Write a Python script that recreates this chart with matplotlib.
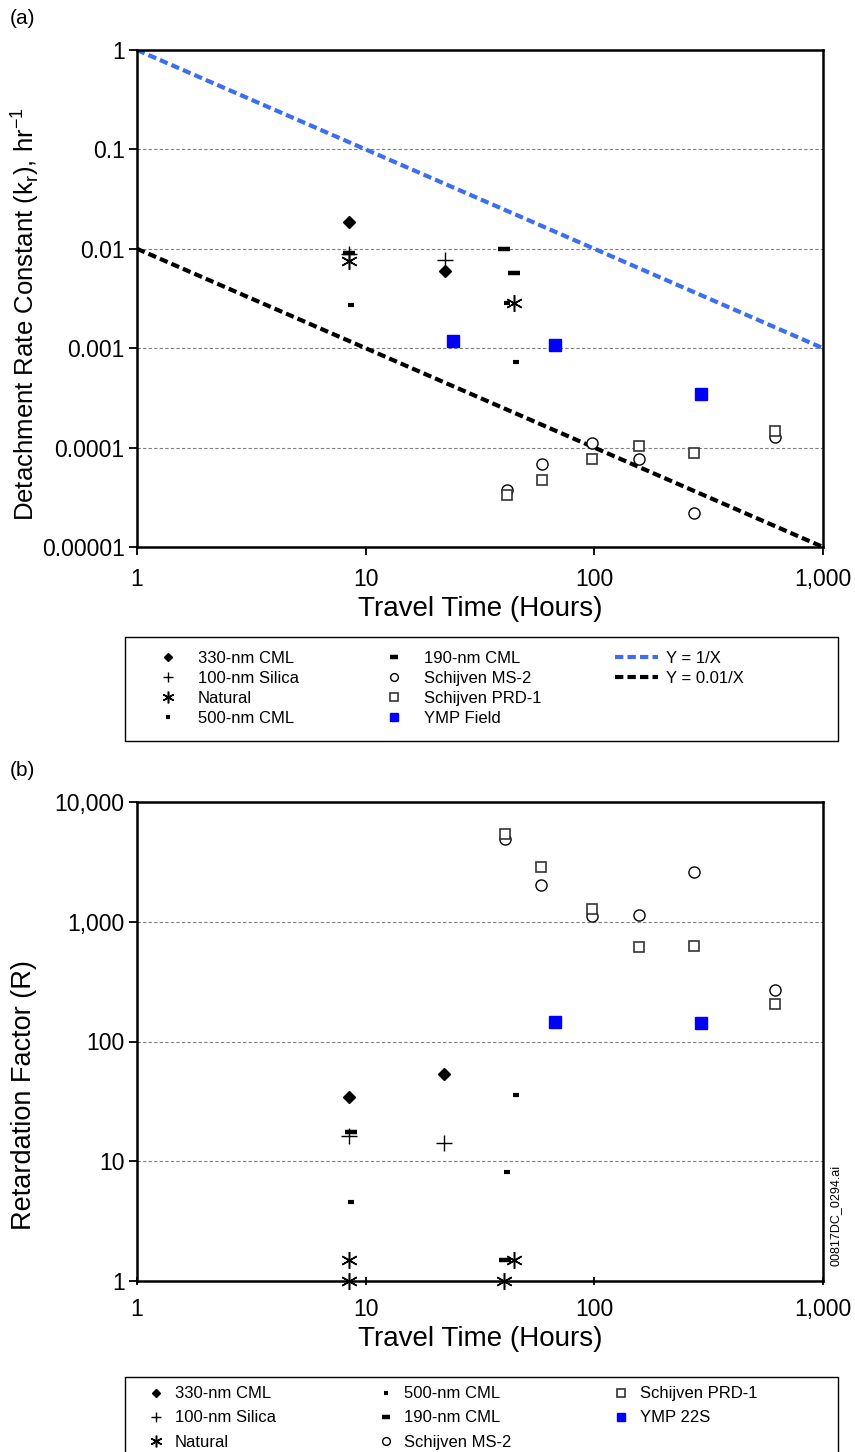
import numpy as np
import matplotlib
matplotlib.use('Agg')
import matplotlib.pyplot as plt
from matplotlib.lines import Line2D
from matplotlib.patches import Rectangle
from matplotlib.ticker import FixedLocator, FixedFormatter, NullLocator

plt.rcParams['font.family'] = ['Liberation Sans', 'DejaVu Sans']

# ---- panel (a): detachment rate constant ----
a_330_x = [8.45, 22.2]
a_330_y = [0.0186, 0.0060]
a_si_x = [8.45, 22.2]
a_si_y = [0.0088, 0.0077]
a_nat_x = [8.45, 44.5]
a_nat_y = [0.0075, 0.00288]
a_500_x = [8.6, 41.4, 45.4]
a_500_y = [0.00274, 0.00288, 0.00073]
a_190_x = [8.45, 40.3, 44.5]
a_190_y = [0.0091, 0.0100, 0.0057]
a_ms2_x = [41.4, 59.2, 97.3, 156.7, 274, 616]
a_ms2_y = [3.74e-5, 6.8e-5, 1.12e-4, 7.7e-5, 2.2e-5, 1.29e-4]
a_prd_x = [41.4, 59.2, 97.3, 156.7, 274, 616]
a_prd_y = [3.3e-5, 4.7e-5, 7.7e-5, 1.04e-4, 8.9e-5, 1.48e-4]
a_ymp_x = [24.2, 67.3, 294]
a_ymp_y = [0.00119, 0.00108, 0.000344]
line_x = np.array([1.0, 1000.0])

# ---- panel (b): retardation factor ----
b_330_x = [8.48, 22.0]
b_330_y = [34.2, 54.0]
b_si_x = [8.45, 22.0]
b_si_y = [16.3, 14.1]
b_nat_x = [8.45, 8.45, 40.3, 44.5]
b_nat_y = [1.5, 1.0, 1.0, 1.5]
b_500_x = [8.6, 41.4, 45.4]
b_500_y = [4.6, 8.2, 35.7]
b_190_x = [8.6, 40.5]
b_190_y = [17.7, 1.5]
b_ms2_x = [40.6, 58.4, 97.3, 157, 274, 616]
b_ms2_y = [4880, 2040, 1117, 1132, 2590, 269]
b_prd_x = [40.6, 58.4, 97.3, 157, 274, 616]
b_prd_y = [5400, 2880, 1280, 615, 631, 206]
b_ymp_x = [67.0, 294]
b_ymp_y = [146, 143]

x_ticks = [1, 10, 100, 1000]
x_labels = ['1', '10', '100', '1,000']
a_yticks = [1e-5, 1e-4, 1e-3, 1e-2, 1e-1, 1]
a_ylabels = ['0.00001', '0.0001', '0.001', '0.01', '0.1', '1']
b_yticks = [1, 10, 100, 1000, 10000]
b_ylabels = ['1', '10', '100', '1,000', '10,000']

W, H = 855, 1452
fig = plt.figure(figsize=(W / 100, H / 100), dpi=100)

sty = {
    '330': dict(marker='D', ms=6, mfc='black', mec='black', ls='none'),
    'si': dict(marker='+', ms=11, mec='black', mew=1.0, ls='none'),
    'nat': dict(marker=(6, 2, 0), ms=12, mec='black', mew=1.1, ls='none'),
    '500': dict(marker='_', ms=5, mec='black', mew=3, ls='none'),
    '190': dict(marker='_', ms=8, mec='black', mew=3.2, ls='none'),
    'ms2': dict(marker='o', ms=8, mfc='white', mec='black', mew=1.0, ls='none'),
    'prd': dict(marker='s', ms=7.5, mfc='white', mec='#333333', mew=1.2, ls='none'),
    'ymp': dict(marker='s', ms=8, mfc='#0000ff', mec='#0000ff', ls='none'),
}


def px(x, y):
    return x / W, 1 - y / H


def setup_axes(ax, yticks, ylabels, ylim, xdir):
    ax.set_xscale('log')
    ax.set_yscale('log')
    ax.set_xlim(1, 1000)
    ax.set_ylim(*ylim)
    ax.xaxis.set_major_locator(FixedLocator(x_ticks))
    ax.xaxis.set_major_formatter(FixedFormatter(x_labels))
    ax.yaxis.set_major_locator(FixedLocator(yticks))
    ax.yaxis.set_major_formatter(FixedFormatter(ylabels))
    ax.xaxis.set_minor_locator(NullLocator())
    ax.yaxis.set_minor_locator(NullLocator())
    ax.tick_params(axis='both', labelsize=16.5, width=1.3, length=6, colors='black')
    ax.tick_params(axis='x', direction=xdir, pad=9)
    ax.tick_params(axis='y', direction='out', pad=3)
    for s in ax.spines.values():
        s.set_linewidth(1.8)
    for t in yticks[1:-1]:
        ax.axhline(t, color='#808080', lw=0.8, ls=(0, (3, 2)), zorder=0)
    ax.set_xlabel('Travel Time (Hours)', fontsize=20, labelpad=4)


# panel (a)
ax1 = fig.add_axes([137 / W, 1 - 547 / H, 686 / W, 497 / H])
setup_axes(ax1, a_yticks, a_ylabels, (1e-5, 1), 'out')
l1, = ax1.plot(line_x, 1.0 / line_x, color='#3d6ef0', lw=3, dashes=(2, 1), zorder=2)
l2, = ax1.plot(line_x, 0.01 / line_x, color='black', lw=3, dashes=(2, 1), zorder=2)
h330, = ax1.plot(a_330_x, a_330_y, **sty['330'])
hsi, = ax1.plot(a_si_x, a_si_y, **sty['si'])
hnat, = ax1.plot(a_nat_x, a_nat_y, **sty['nat'])
h500, = ax1.plot(a_500_x, a_500_y, **sty['500'])
h190, = ax1.plot(a_190_x, a_190_y, **sty['190'])
hms2, = ax1.plot(a_ms2_x, a_ms2_y, **sty['ms2'])
hprd, = ax1.plot(a_prd_x, a_prd_y, **sty['prd'])
hymp, = ax1.plot(a_ymp_x, a_ymp_y, **sty['ymp'])
fig.text(*px(25, 314), 'Detachment Rate Constant (k$_\\mathregular{r}$), hr$^\\mathregular{-1}$',
         fontsize=18.5, rotation=90, ha='center', va='center')

blank = Line2D([], [], ls='none', marker='none')
hs = [h330, hsi, hnat, h500, h190, hms2, hprd, hymp, l1, l2, blank, blank]
ls = ['330-nm CML', '100-nm Silica', 'Natural', '500-nm CML', '190-nm CML',
      'Schijven MS-2', 'Schijven PRD-1', 'YMP Field', 'Y = 1/X', 'Y = 0.01/X', '', '']
fig.legend(hs, ls, ncol=3, loc='upper left', bbox_to_anchor=px(128, 633),
           fontsize=12, frameon=False, labelspacing=0.3, handlelength=2.6,
           handletextpad=0.5, columnspacing=4.4, markerscale=0.7, borderpad=0.6)
fig.add_artist(Rectangle(px(125, 741), 713 / W, 104 / H, transform=fig.transFigure,
                         fill=False, ec='black', lw=1.0))

# panel (b)
ax2 = fig.add_axes([137 / W, 1 - 1281 / H, 686 / W, 479 / H])
setup_axes(ax2, b_yticks, b_ylabels, (1, 10000), 'inout')
g330, = ax2.plot(b_330_x, b_330_y, clip_on=False, **sty['330'])
gsi, = ax2.plot(b_si_x, b_si_y, clip_on=False, **sty['si'])
gnat, = ax2.plot(b_nat_x, b_nat_y, clip_on=False, **sty['nat'])
g500, = ax2.plot(b_500_x, b_500_y, clip_on=False, **sty['500'])
g190, = ax2.plot(b_190_x, b_190_y, clip_on=False, **sty['190'])
gms2, = ax2.plot(b_ms2_x, b_ms2_y, **sty['ms2'])
gprd, = ax2.plot(b_prd_x, b_prd_y, **sty['prd'])
gymp, = ax2.plot(b_ymp_x, b_ymp_y, **sty['ymp'])
fig.text(*px(24, 1095), 'Retardation Factor (R)', fontsize=19.5, rotation=90,
         ha='center', va='center')

hs2 = [g330, gsi, gnat, g500, g190, gms2, gprd, gymp]
ls2 = ['330-nm CML', '100-nm Silica', 'Natural', '500-nm CML', '190-nm CML',
       'Schijven MS-2', 'Schijven PRD-1', 'YMP 22S']
fig.legend(hs2, ls2, ncol=3, loc='upper left', bbox_to_anchor=px(128, 1368),
           fontsize=12, frameon=False, labelspacing=0.55, handlelength=1.2,
           handletextpad=0.5, columnspacing=6.0, markerscale=0.7, borderpad=0.6)
fig.add_artist(Rectangle(px(125, 1470), 713 / W, 93 / H, transform=fig.transFigure,
                         fill=False, ec='black', lw=1.0))

fig.text(*px(10, 18), '(a)', fontsize=15, va='center', ha='left')
fig.text(*px(10, 770), '(b)', fontsize=15, va='center', ha='left')
fig.text(*px(836, 1215), '00817DC_0294.ai', fontsize=9, rotation=90,
         va='center', ha='center')

fig.savefig('out.png', dpi=100)
